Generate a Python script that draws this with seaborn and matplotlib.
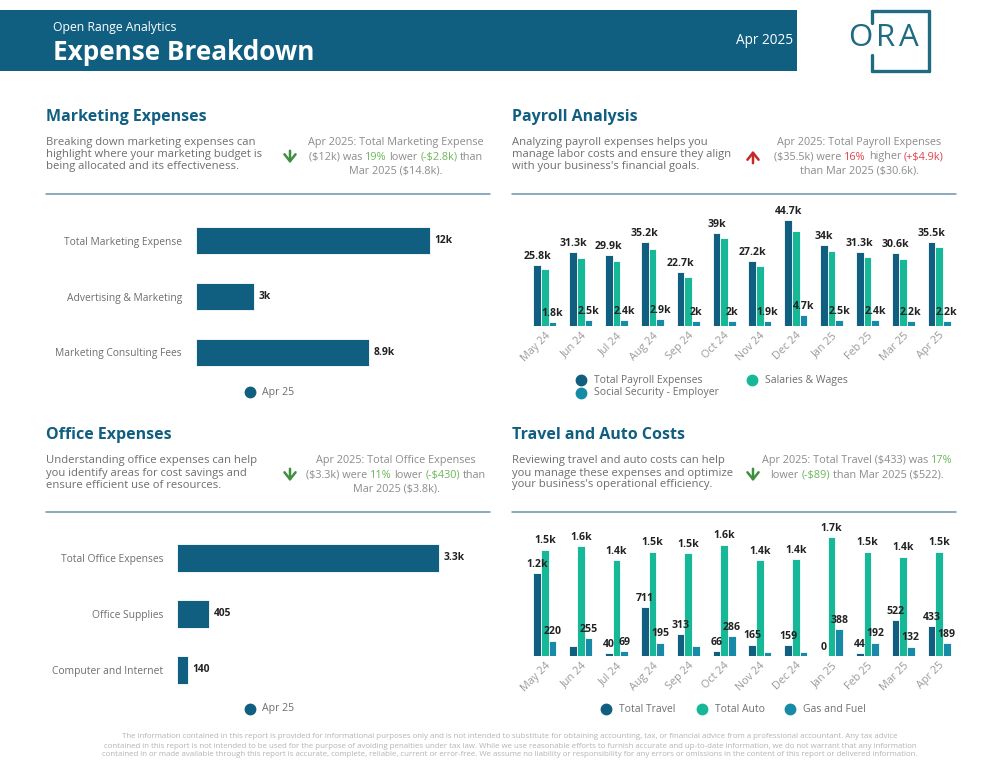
import numpy as np
import pandas as pd
import matplotlib
matplotlib.use("Agg")
import matplotlib.pyplot as plt
from matplotlib.lines import Line2D
import seaborn as sns

# ---- data ----
months = ["May 24", "Jun 24", "Jul 24", "Aug 24", "Sep 24", "Oct 24",
          "Nov 24", "Dec 24", "Jan 25", "Feb 25", "Mar 25", "Apr 25"]

mkt_cats = ["Total Marketing Expense", "Advertising & Marketing", "Marketing Consulting Fees"]
mkt_vals = [12000, 3000, 8900]

office_cats = ["Total Office Expenses", "Office Supplies", "Computer and Internet"]
office_vals = [3300, 405, 140]

payroll_total = [25800, 31300, 29900, 35200, 22700, 39000, 27200, 44700, 34000, 31300, 30600, 35500]
payroll_salaries = [24000, 28700, 27500, 32400, 20600, 37200, 25200, 40200, 31500, 29000, 28400, 33400]
payroll_ss = [1800, 2500, 2400, 2900, 2000, 2000, 1900, 4700, 2500, 2400, 2200, 2200]

travel_total = [1200, 145, 40, 711, 313, 66, 165, 159, 0, 44, 522, 433]
auto_total = [1540, 1590, 1390, 1510, 1490, 1610, 1390, 1400, 1720, 1510, 1440, 1510]
gas_fuel = [220, 255, 69, 195, 150, 286, 55, 65, 388, 192, 132, 189]

# labels that the original report hides because of overlap
travel_hidden = [("Jun 24", "Total Travel"), ("Sep 24", "Gas and Fuel"),
                 ("Nov 24", "Gas and Fuel"), ("Dec 24", "Gas and Fuel")]

# ---- style ----
sns.set_theme(style="white")
plt.rcParams['font.family'] = ['Open Sans', 'DejaVu Sans']

DARK = "#115f80"
TEAL = "#17b897"
MID = "#168aa6"
GREY = "#6e6e6e"
LGREY = "#8c8c8c"
GREEN = "#6bb85a"
DGREEN = "#3f8f3f"
RED = "#e0434b"
DRED = "#c62828"
LINE = "#6b93ab"

W, H = 1000, 773
fig = plt.figure(figsize=(W / 100, H / 100), dpi=100)
fig.patch.set_facecolor("white")


def fx(x):
    return x / W


def fy(y):
    return 1 - y / H


def px_axes(x0, y0, x1, y1):
    return fig.add_axes([fx(x0), fy(y1), (x1 - x0) / W, (y1 - y0) / H])


def txt(x, y, s, **kw):
    kw.setdefault("va", "center")
    return fig.text(fx(x), fy(y), s, **kw)


def fmt(v):
    if v >= 1000:
        s = f"{v / 1000:.1f}".rstrip("0").rstrip(".")
        return s + "k"
    return str(int(round(v)))


renderer = fig.canvas.get_renderer()


def rich_line(xc, y, parts, size):
    # parts: list of (text, colour); joined by single spaces, centred at xc
    a = fig.text(0, 0, "x x", size=size)
    b = fig.text(0, 0, "xx", size=size)
    sp = a.get_window_extent(renderer).width - b.get_window_extent(renderer).width
    a.remove()
    b.remove()
    ts = [fig.text(0, 0, s, color=c, size=size, va="center") for s, c in parts]
    ws = [t.get_window_extent(renderer).width for t in ts]
    total = sum(ws) + sp * (len(ws) - 1)
    x = xc - total / 2
    for t, w in zip(ts, ws):
        t.set_position((fx(x), fy(y)))
        x += w + sp


def arrow(x, y0, y1, color):
    fig.add_artist(matplotlib.patches.FancyArrowPatch(
        (fx(x), fy(y0)), (fx(x), fy(y1)), transform=fig.transFigure,
        arrowstyle="->,head_length=5,head_width=4", color=color, lw=1.8))


# ---- header ----
fig.add_artist(matplotlib.patches.Rectangle((0, fy(71)), fx(797), (71 - 10) / H,
                                            transform=fig.transFigure, color=DARK, lw=0))
txt(53, 27, "Open Range Analytics", color="white", size=8.8)
txt(53, 52, "Expense Breakdown", color="white", size=18.8, weight="bold")
txt(793, 41, "Apr 2025", color="white", size=9.8, ha="right")

logo_col = "#1f6b82"
for seg in [((872, 11), (929, 11)), ((929, 11), (929, 71)), ((872, 71), (929, 71)),
            ((872, 11), (872, 23)), ((872, 55), (872, 71))]:
    (xa, ya), (xb, yb) = seg
    fig.add_artist(Line2D([fx(xa), fx(xb)], [fy(ya), fy(yb)], transform=fig.transFigure,
                          color=logo_col, lw=2.4))
for lx, letter in zip([860, 886, 909], "ORA"):
    txt(lx, 38, letter, color=logo_col, size=22.5, ha="center")

# ---- section headers ----
sections = [
    (46, 117, "Marketing Expenses",
     ["Breaking down marketing expenses can", "highlight where your marketing budget is",
      "being allocated and its effectiveness."],
     396, [[("Apr 2025: Total Marketing Expense", LGREY)],
           [("($12k) was", LGREY), ("19%", GREEN), ("lower", LGREY), ("(-$2.8k)", GREEN), ("than", LGREY)],
           [("Mar 2025 ($14.8k).", LGREY)]],
     (290, DGREEN, True)),
    (512, 117, "Payroll Analysis",
     ["Analyzing payroll expenses helps you", "manage labor costs and ensure they align",
      "with your business's financial goals."],
     859, [[("Apr 2025: Total Payroll Expenses", LGREY)],
           [("($35.5k) were", LGREY), ("16%", RED), ("higher", LGREY), ("(+$4.9k)", RED)],
           [("than Mar 2025 ($30.6k).", LGREY)]],
     (753, DRED, False)),
    (46, 435, "Office Expenses",
     ["Understanding office expenses can help", "you identify areas for cost savings and",
      "ensure efficient use of resources."],
     396, [[("Apr 2025: Total Office Expenses", LGREY)],
           [("($3.3k) were", LGREY), ("11%", GREEN), ("lower", LGREY), ("(-$430)", GREEN), ("than", LGREY)],
           [("Mar 2025 ($3.8k).", LGREY)]],
     (290, DGREEN, True)),
    (512, 435, "Travel and Auto Costs",
     ["Reviewing travel and auto costs can help", "you manage these expenses and optimize",
      "your business's operational efficiency."],
     857, [[("Apr 2025: Total Travel ($433) was", LGREY), ("17%", GREEN)],
           [("lower", LGREY), ("(-$89)", GREEN), ("than Mar 2025 ($522).", LGREY)]],
     (753, DGREEN, True)),
]

for x0, y0, title, desc, xc, rich, (ax_x, acol, down) in sections:
    txt(x0, y0, title, color=DARK, size=11.5, weight="bold")
    for i, line in enumerate(desc):
        txt(x0, y0 + 26 + i * 12, line, color=GREY, size=8.1)
    for i, parts in enumerate(rich):
        rich_line(xc, y0 + 26 + i * 14, parts, 7.8)
    mid = y0 + 40
    if down:
        arrow(ax_x, mid - 9, mid + 9, acol)
    else:
        arrow(ax_x, mid + 9, mid - 9, acol)
    fig.add_artist(Line2D([fx(x0), fx(x0 + 444)], [fy(y0 + 77), fy(y0 + 77)],
                          transform=fig.transFigure, color=LINE, lw=1.1))


# ---- horizontal bar charts ----
def hbar(cats, vals, x0, x1, ytop, ybot, xmax, legend_y):
    ax = px_axes(x0, ytop, x1, ybot)
    df = pd.DataFrame({"cat": cats, "val": vals})
    sns.barplot(data=df, y="cat", x="val", color=DARK, width=0.49, ax=ax,
                saturation=1, edgecolor="white", linewidth=0.6)
    ax.set_xlim(0, xmax)
    ax.set_ylim(len(cats) - 0.5, -0.5)
    ax.set_xlabel("")
    ax.set_ylabel("")
    ax.set_xticks([])
    ax.tick_params(axis="y", length=0, pad=10, labelsize=7.4, labelcolor=GREY)
    sns.despine(ax=ax, left=True, bottom=True)
    for i, v in enumerate(vals):
        ax.text(v + xmax * 0.015, i, fmt(v), va="center", ha="left",
                size=7.4, weight="bold", color="#222222")
    fig.add_artist(Line2D([fx(250)], [fy(legend_y)], marker="o", ms=7.5, color=DARK,
                          transform=fig.transFigure, lw=0))
    txt(262, legend_y, "Apr 25", color=GREY, size=7.6)
    return ax


hbar(mkt_cats, mkt_vals, 196, 480, 213, 380, 14570, 392)
hbar(office_cats, office_vals, 177, 480, 530, 698, 3300 * 303 / 262, 709)


# ---- grouped column charts ----
def columns(series, names, colors, ytop, ybase, ymax, hidden, label_series):
    ax = px_axes(527, ytop, 957, ybase)
    rows = []
    for name, vals in zip(names, series):
        for m, v in zip(months, vals):
            rows.append({"month": m, "series": name, "val": v})
    df = pd.DataFrame(rows)
    sns.barplot(data=df, x="month", y="val", hue="series", hue_order=names,
                palette=colors, width=0.64, gap=0, saturation=1, ax=ax,
                edgecolor="white", linewidth=0.6, legend=False)
    ax.set_ylim(0, ymax)
    ax.set_xlim(-0.5, len(months) - 0.5)
    ax.set_xlabel("")
    ax.set_ylabel("")
    ax.set_yticks([])
    ax.set_xticks(range(len(months)))
    ax.set_xticklabels(months, rotation=45, ha="right", rotation_mode="anchor")
    ax.tick_params(axis="x", length=0, pad=3, labelsize=7.8, labelcolor="#9a9a9a")
    sns.despine(ax=ax, left=True, bottom=True)
    nb = len(names)
    bw = 0.64 / nb
    for j, (name, vals) in enumerate(zip(names, series)):
        if name not in label_series:
            continue
        off = -0.32 + bw * (j + 0.5)
        for i, v in enumerate(vals):
            if (months[i], name) in hidden:
                continue
            ax.text(i + off, v + ymax * 0.025, fmt(v), ha="center", va="bottom",
                    size=7.6, weight="bold", color="#222222", clip_on=False)
    return ax


columns([payroll_total, payroll_salaries, payroll_ss],
        ["Total Payroll Expenses", "Salaries & Wages", "Social Security - Employer"],
        [DARK, TEAL, MID], 200, 326, 53100, [],
        ["Total Payroll Expenses", "Social Security - Employer"])

columns([travel_total, auto_total, gas_fuel],
        ["Total Travel", "Total Auto", "Gas and Fuel"],
        [DARK, TEAL, MID], 520, 656, 1970, travel_hidden,
        ["Total Travel", "Total Auto", "Gas and Fuel"])


def legend_item(x, y, label, color):
    fig.add_artist(Line2D([fx(x)], [fy(y)], marker="o", ms=7.5, color=color,
                          transform=fig.transFigure, lw=0))
    txt(x + 13, y, label, color=GREY, size=7.5)


legend_item(581, 380, "Total Payroll Expenses", DARK)
legend_item(752, 380, "Salaries & Wages", TEAL)
legend_item(581, 393, "Social Security - Employer", MID)

legend_item(606, 709, "Total Travel", DARK)
legend_item(702, 709, "Total Auto", TEAL)
legend_item(790, 709, "Gas and Fuel", MID)

# ---- footer ----
footer = [
    "The information contained in this report is provided for informational purposes only and is not intended to substitute for obtaining accounting, tax, or financial advice from a professional accountant. Any tax advice",
    "contained in this report is not intended to be used for the purpose of avoiding penalties under tax law. While we use reasonable efforts to furnish accurate and up-to-date information, we do not warrant that any information",
    "contained in or made available through this report is accurate, complete, reliable, current or error-free. We assume no liability or responsibility for any errors or omissions in the content of this report or delivered information.",
]
for i, line in enumerate(footer):
    txt(510, 737 + i * 9, line, color="#b3b3b3", size=5.65, ha="center")

fig.savefig("out.png", dpi=100, facecolor="white")
